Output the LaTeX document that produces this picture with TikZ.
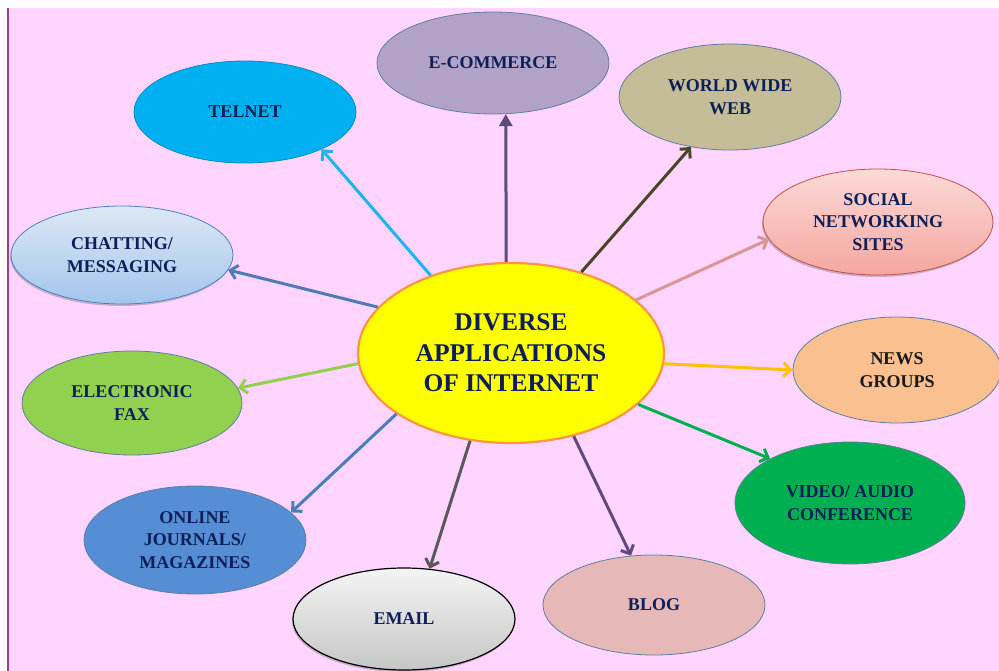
\documentclass[tikz,border=0pt]{standalone}
\usepackage{fontspec}
\setmainfont{Liberation Serif}
\usetikzlibrary{shapes.geometric,arrows.meta,shadows}
\definecolor{txt}{HTML}{0E1F57}
\definecolor{bg}{HTML}{FFD4FE}
\definecolor{leftline}{HTML}{9B3D9B}
\definecolor{bord}{HTML}{5E7FA0}
\definecolor{hubfill}{HTML}{FFFF00}
\definecolor{hubbord}{HTML}{F79646}
\definecolor{telfill}{HTML}{00B0F0}
\definecolor{ecofill}{HTML}{B3A2C7}
\definecolor{wwwfill}{HTML}{C4BD97}
\definecolor{newsfill}{HTML}{FAC090}
\definecolor{vidfill}{HTML}{00B050}
\definecolor{blogfill}{HTML}{E6B9B8}
\definecolor{onlfill}{HTML}{558ED5}
\definecolor{faxfill}{HTML}{92D050}
\definecolor{chattop}{HTML}{DDE8F5}
\definecolor{chatbot}{HTML}{A3C5EC}
\definecolor{chatbord}{HTML}{4F81BD}
\definecolor{soctop}{HTML}{FCDAD7}
\definecolor{socbot}{HTML}{F5A7A0}
\definecolor{socbord}{HTML}{C0504D}
\definecolor{mailtop}{HTML}{F4F4F4}
\definecolor{mailbot}{HTML}{C6C6C6}
\definecolor{atel}{HTML}{1CB5EC}
\definecolor{aeco}{HTML}{5E4B7C}
\definecolor{awww}{HTML}{4A4527}
\definecolor{asoc}{HTML}{D99694}
\definecolor{anews}{HTML}{FFC000}
\definecolor{avid}{HTML}{00B050}
\definecolor{ablog}{HTML}{604A7B}
\definecolor{amail}{HTML}{595959}
\definecolor{aonl}{HTML}{4A7EBB}
\definecolor{afax}{HTML}{92D050}
\definecolor{achat}{HTML}{4F7BB5}
\begin{document}
\begin{tikzpicture}[x=1pt,y=-1pt,
  app/.style={ellipse, inner sep=0pt, minimum width=222pt, minimum height=102pt,
    align=center, font=\fontsize{18}{22.5}\selectfont\bfseries, text=txt,
    draw=bord, line width=0.8pt},
  soft/.style={drop shadow={shadow xshift=-1pt, shadow yshift=-2pt, fill=gray, opacity=0.45}},
  conn/.style={line width=3pt, -{Straight Barb[length=7pt,width=14pt]}},
  connt/.style={line width=3pt, -{Triangle[length=12pt,width=13pt]}}
]
\useasboundingbox (0,0) rectangle (999,671);
\fill[white] (0,0) rectangle (999,671);
\fill[bg] (8,8) rectangle (999,671);
\draw[leftline, line width=1.5pt] (8,8) -- (8,671);

\node[ellipse, fill=hubfill, draw=hubbord, line width=2.2pt, inner sep=0pt,
  minimum width=306pt, minimum height=180pt, align=center,
  font=\fontsize{25.5}{30.5}\selectfont\bfseries, text=txt] (hub) at (511,353)
  {DIVERSE\\APPLICATIONS\\OF INTERNET};

\node[app, fill=telfill, draw=telfill!80!black, minimum height=102pt] (telnet) at (245,112) {TELNET};
\node[app, fill=ecofill, minimum width=232pt, minimum height=102pt] (ecom) at (493,63) {E-COMMERCE};
\node[app, fill=wwwfill, minimum height=106pt] (www) at (730,97) {WORLD WIDE\\WEB};
\node[app, soft, top color=soctop, bottom color=socbot, draw=socbord, minimum width=230pt, minimum height=106pt] (social) at (878,222) {SOCIAL\\NETWORKING\\SITES};
\node[app, fill=newsfill, text=black!90, minimum width=208pt, minimum height=106pt] (news) at (897,370) {NEWS\\GROUPS};
\node[app, fill=vidfill, minimum width=230pt, minimum height=122pt] (video) at (850,503) {VIDEO/ AUDIO\\CONFERENCE};
\node[app, fill=blogfill, minimum height=100pt] (blog) at (654,605) {BLOG};
\node[app, soft, top color=mailtop, bottom color=mailbot, draw=black, line width=1.2pt, minimum height=102pt] (email) at (404,619) {EMAIL};
\node[app, fill=onlfill, minimum height=108pt] (online) at (195,540) {ONLINE\\JOURNALS/\\MAGAZINES};
\node[app, fill=faxfill, minimum width=220pt, minimum height=104pt] (fax) at (132,403) {ELECTRONIC\\FAX};
\node[app, soft, top color=chattop, bottom color=chatbot, draw=chatbord, minimum height=98pt] (chat) at (122,255) {CHATTING/\\MESSAGING};

\draw[conn, atel] (hub.136) -- (telnet.-26);
\draw[connt, aeco] (hub.93) -- (ecom.-76);
\draw[conn, awww] (hub.49) -- (www.-128);
\draw[conn, asoc] (hub.23) -- (social.189);
\draw[conn, anews] (hub.-4.5) -- (news.180);
\draw[conn, avid] (hub.-22) -- (video.151);
\draw[conn, ablog] (hub.-53) -- (blog.115);
\draw[conn, amail] (hub.-115) -- (email.63);
\draw[conn, aonl] (hub.208) -- (online.16);
\draw[conn, afax] (hub.184) -- (fax.8);
\draw[conn, achat] (hub.161) -- (chat.-8);
\end{tikzpicture}
\end{document}
